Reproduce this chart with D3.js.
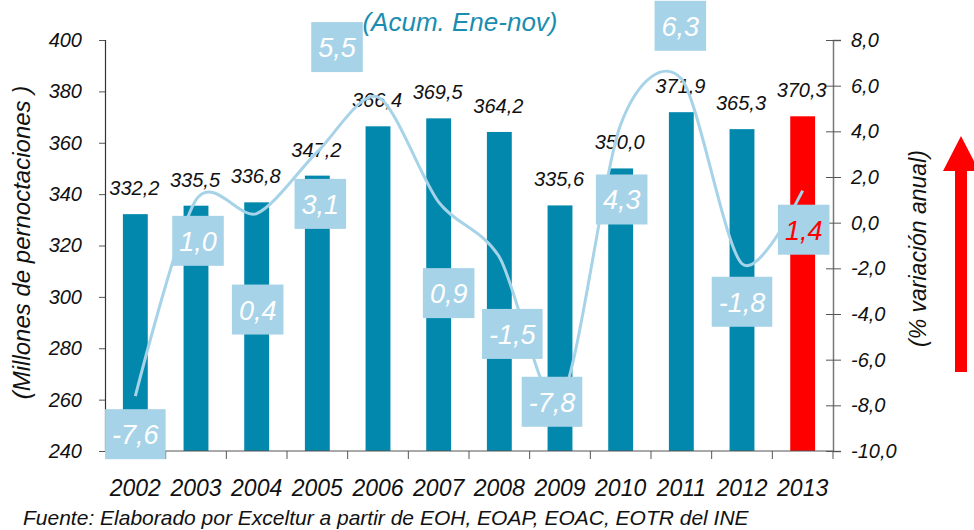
<!DOCTYPE html>
<html>
<head>
<meta charset="utf-8">
<script src="https://cdn.jsdelivr.net/npm/d3@7"></script>
<style>
  body { margin: 0; background: #fff; }
  svg { display: block; font-family: "Liberation Sans", Arial, sans-serif; font-style: italic; }
</style>
</head>
<body>
<div id="chart"></div>
<script>
// data
const years = ["2002","2003","2004","2005","2006","2007","2008","2009","2010","2011","2012","2013"]
const nights = [332.2, 335.5, 336.8, 347.2, 366.4, 369.5, 364.2, 335.6, 350.0, 371.9, 365.3, 370.3]
const change = [-7.6, 1.0, 0.4, 3.1, 5.5, 0.9, -1.5, -7.8, 4.3, 6.3, -1.8, 1.4]
const leftTicks = [240, 260, 280, 300, 320, 340, 360, 380, 400]
const rightTicks = [-10, -8, -6, -4, -2, 0, 2, 4, 6, 8]

// where the variation labels were dragged to (px from the line point)
const labelShift = [[0,38],[2,41],[1,96],[3,52],[-41,-50],[10,91],[13,77],[-8,1],[1,75],[-1,-53],[0,38],[1,39]]

// spanish style numbers: comma decimal, plain hyphen for minus
const es = d3.formatLocale({decimal: ",", thousands: ".", grouping: [3], currency: ["", " €"], minus: "-"})
const fmt = es.format(".1f")

const width = 974, height = 530
const margin = {top: 40, right: 141, bottom: 79, left: 105}
const innerW = width - margin.left - margin.right
const innerH = height - margin.top - margin.bottom

const svg = d3.select("#chart").append("svg")
    .attr("width", width)
    .attr("height", height)

const bounds = svg.append("g")
    .attr("transform", `translate(${margin.left},${margin.top})`)

// scales
const x = d3.scaleBand()
    .domain(years)
    .range([0, innerW])
    .paddingInner(0.59)
    .paddingOuter(0.295)

const yLeft = d3.scaleLinear().domain([240, 400]).range([innerH, 0])
const yRight = d3.scaleLinear().domain([-10, 8]).range([innerH, 0])

const xMid = d => x(d) + x.bandwidth() / 2

// bars
bounds.selectAll("rect.bar")
    .data(nights)
    .join("rect")
    .attr("class", "bar")
    .attr("x", (d, i) => x(years[i]))
    .attr("width", x.bandwidth())
    .attr("y", d => yLeft(d))
    .attr("height", d => innerH - yLeft(d))
    .attr("fill", (d, i) => i == years.length - 1 ? "#ff0000" : "#0288ac")

// bar value labels
bounds.selectAll("text.barlab")
    .data(nights)
    .join("text")
    .attr("class", "barlab")
    .attr("x", (d, i) => xMid(years[i]) - 1)
    .attr("y", d => yLeft(d) - 19)
    .attr("text-anchor", "middle")
    .attr("font-size", 20)
    .attr("fill", "#111")
    .text(fmt)

// axes
const leftAxis = bounds.append("g")
    .call(d3.axisLeft(yLeft).tickValues(leftTicks).tickSize(6).tickPadding(17).tickFormat(d3.format("d")))
leftAxis.select(".domain").attr("stroke", "#333").attr("stroke-width", 1.2)
leftAxis.selectAll(".tick line").attr("stroke", "#555")
leftAxis.selectAll("text").attr("font-size", 20).attr("fill", "#111").attr("font-family", null)

const rightAxis = bounds.append("g")
    .attr("transform", `translate(${innerW},0)`)
    .call(d3.axisRight(yRight).tickValues(rightTicks).tickSize(8).tickPadding(10).tickFormat(fmt))
rightAxis.select(".domain").attr("stroke", "#777").attr("stroke-width", 1.5)
rightAxis.selectAll(".tick line").attr("stroke", "#555").attr("x1", -7)
rightAxis.selectAll("text").attr("font-size", 20).attr("fill", "#111").attr("font-family", null)

// x axis: ticks at category boundaries
const bottom = bounds.append("g").attr("transform", `translate(0,${innerH})`)
bottom.append("line")
    .attr("x1", 0).attr("x2", innerW)
    .attr("stroke", "#555").attr("stroke-width", 1.2)
const step = x.step()
bottom.selectAll("line.tk")
    .data(d3.range(1, years.length + 1))
    .join("line")
    .attr("class", "tk")
    .attr("x1", i => x(years[0]) - x.paddingOuter() * step + i * step)
    .attr("x2", i => x(years[0]) - x.paddingOuter() * step + i * step)
    .attr("y1", 0).attr("y2", 8)
    .attr("stroke", "#555")
bottom.selectAll("text")
    .data(years)
    .join("text")
    .attr("x", d => xMid(d))
    .attr("y", 45)
    .attr("text-anchor", "middle")
    .attr("font-size", 23)
    .attr("fill", "#111")
    .text(d => d)

// variation line
const line = d3.line()
    .x((d, i) => xMid(years[i]))
    .y(d => yRight(d))
    .curve(d3.curveCardinal.tension(0.15))

bounds.append("path")
    .attr("d", line(change))
    .attr("fill", "none")
    .attr("stroke", "#a6d3e8")
    .attr("stroke-width", 3)

// variation label boxes
const boxes = bounds.selectAll("g.vlab")
    .data(change)
    .join("g")
    .attr("class", "vlab")
    .attr("transform", (d, i) => `translate(${xMid(years[i]) + labelShift[i][0]},${yRight(d) + labelShift[i][1]})`)

boxes.append("rect").attr("fill", "#a6d3e8")
boxes.append("text")
    .attr("text-anchor", "middle")
    .attr("y", 10)
    .attr("font-size", 27)
    .attr("fill", (d, i) => i == change.length - 1 ? "#ff0000" : "#ffffff")
    .text(fmt)
boxes.each(function() {
    const g = d3.select(this)
    const w = g.select("text").node().getComputedTextLength() + 14
    g.select("rect").attr("x", -w / 2).attr("y", -25).attr("width", w).attr("height", 50)
})

// axis titles
svg.append("text")
    .attr("transform", `translate(30,${margin.top + innerH / 2 - 3}) rotate(-90)`)
    .attr("text-anchor", "middle")
    .attr("font-size", 24)
    .attr("fill", "#111")
    .text("(Millones de pernoctaciones )")

svg.append("text")
    .attr("transform", `translate(926,${margin.top + innerH / 2 + 3}) rotate(-90)`)
    .attr("text-anchor", "middle")
    .attr("font-size", 23)
    .attr("fill", "#111")
    .text("(% variación anual)")

// subtitle
svg.append("text")
    .attr("x", 460).attr("y", 31)
    .attr("text-anchor", "middle")
    .attr("font-size", 26)
    .attr("fill", "#1a8db0")
    .text("(Acum. Ene-nov)")

// source
svg.append("text")
    .attr("x", 23).attr("y", 525)
    .attr("font-size", 21)
    .attr("fill", "#111")
    .text("Fuente: Elaborado por Exceltur a partir de EOH, EOAP, EOAC, EOTR del INE")

// red arrow on the right
svg.append("path")
    .attr("d", "M955,372 L955,171 L943,171 L961,136 L979,171 L967,171 L967,372 Z")
    .attr("fill", "#ff0000")
</script>
</body>
</html>
